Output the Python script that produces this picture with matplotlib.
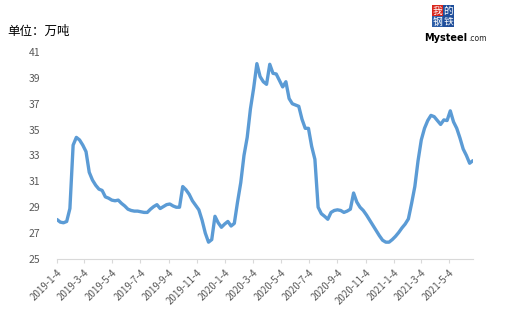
import matplotlib
matplotlib.use('Agg')
import matplotlib.pyplot as plt
import numpy as np
import pandas as pd

plt.rcParams['font.family'] = ['Noto Sans CJK SC', 'DejaVu Sans']

# weekly data starting 2019-1-4 (万吨)
start_date = '2019-01-04'
values = [
    28.05, 27.85, 27.8, 27.9, 28.9, 33.8, 34.4, 34.2, 33.8, 33.3,
    31.7, 31.1, 30.7, 30.4, 30.3, 29.8, 29.7, 29.55, 29.5, 29.55,
    29.3, 29.1, 28.85, 28.75, 28.7, 28.7, 28.65, 28.6, 28.6, 28.85,
    29.05, 29.2, 28.9, 29.05, 29.2, 29.25, 29.1, 29.0, 29.0, 30.6,
    30.35, 30.0, 29.5, 29.15, 28.8, 28.0, 27.0, 26.3, 26.5, 28.3,
    27.8, 27.45, 27.7, 27.9, 27.55, 27.75, 29.4, 30.9, 33.0, 34.4,
    36.6, 38.2, 40.1, 39.1, 38.7, 38.5, 40.05, 39.35, 39.3, 38.8,
    38.3, 38.7, 37.4, 37.0, 36.9, 36.8, 35.8, 35.1, 35.1, 33.7,
    32.7, 29.0, 28.5, 28.3, 28.07, 28.6, 28.75, 28.8, 28.75, 28.6,
    28.7, 28.85, 30.1, 29.4, 29.0, 28.75, 28.4, 28.0, 27.6, 27.2,
    26.8, 26.45, 26.3, 26.3, 26.5, 26.75, 27.05, 27.4, 27.7, 28.1,
    29.3, 30.6, 32.6, 34.2, 35.1, 35.7, 36.1, 36.0, 35.7, 35.4,
    35.75, 35.7, 36.45, 35.6, 35.1, 34.35, 33.5, 33.0, 32.4, 32.6,
]
dates = pd.date_range(start_date, periods=len(values), freq='7D')

tick_dates = pd.date_range('2019-01-01', '2021-05-01', freq='2MS') + pd.Timedelta(days=3)
tick_labels = [f'{d.year}-{d.month}-{d.day}' for d in tick_dates]
y_ticks = [25, 27, 29, 31, 33, 35, 37, 39, 41]

fig = plt.figure(figsize=(5.09, 3.17), dpi=100)
ax = fig.add_axes([0.112, 0.183, 0.817, 0.653])
ax.plot(dates, values, color='#5B9BD5', linewidth=2.4, solid_capstyle='round')

ax.set_xlim(dates[0], dates[-1])
ax.set_ylim(25, 41)
ax.set_yticks(y_ticks)
ax.set_xticks(tick_dates)
ax.set_xticklabels(tick_labels, rotation=45, ha='right', rotation_mode='anchor')
ax.tick_params(axis='y', length=0, labelsize=7.5, labelcolor='#595959', pad=12)
ax.tick_params(axis='x', length=3, color='#D9D9D9', labelsize=7, labelcolor='#595959', pad=3)

for s in ['top', 'right', 'left']:
    ax.spines[s].set_visible(False)
ax.spines['bottom'].set_color('#D9D9D9')

fig.text(0.014, 0.90, '单位：万吨', fontsize=9, color='black', va='center')

# logo
logo = [('我', '#D9261C', 0.859, 0.966), ('的', '#1F4E9A', 0.881, 0.966),
        ('钢', '#2E5FA8', 0.859, 0.931), ('铁', '#1F4E9A', 0.881, 0.931)]
for ch, c, lx, ly in logo:
    fig.text(lx, ly, ch, fontsize=7, color='white', ha='center', va='center',
             bbox=dict(boxstyle='square,pad=0.05', fc=c, ec='none'))

t1 = fig.text(0.833, 0.872, 'Mysteel', fontsize=7, fontweight='bold', color='black',
              va='baseline', family='DejaVu Sans')
fig.canvas.draw()
bb = t1.get_window_extent().transformed(fig.transFigure.inverted())
fig.text(bb.x1 + 0.002, 0.872, '.com', fontsize=5.5, color='#222222', va='baseline', family='DejaVu Sans')

fig.savefig('out.png', dpi=100)
